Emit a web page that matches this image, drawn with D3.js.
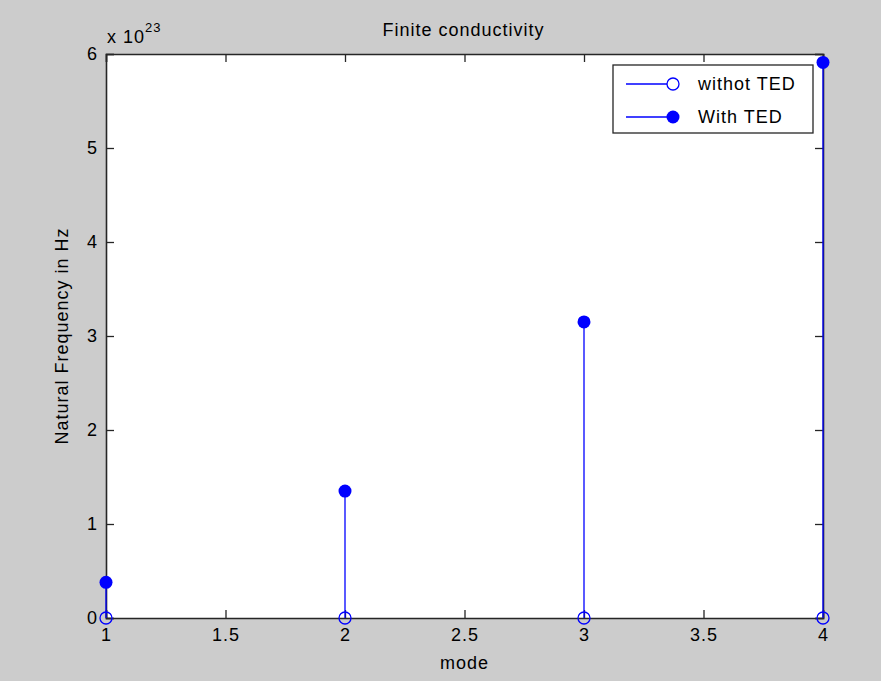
<!DOCTYPE html>
<html><head><meta charset="utf-8">
<script src="https://cdn.jsdelivr.net/npm/d3@7"></script>
<style>
html,body{margin:0;padding:0;background:#cccccc;}
svg text{font-family:"Liberation Sans",Arial,sans-serif;fill:#000;}
</style></head>
<body>
<svg id="chart" width="881" height="681"></svg>
<script>
const title = "Finite conductivity";
const xLabel = "mode";
const yLabel = "Natural Frequency in Hz";
const modes = [1, 2, 3, 4];
const withoutTED = [0, 0, 0, 0];
const withTED = [0.38e23, 1.35e23, 3.15e23, 5.91e23];
const seriesNames = ["withot TED", "With TED"];
const xTicks = [1, 1.5, 2, 2.5, 3, 3.5, 4];
const yTicks = [0, 1e23, 2e23, 3e23, 4e23, 5e23, 6e23];
const yExponent = 23;

const svg = d3.select("#chart");
const W = 881, H = 681;
svg.append("rect").attr("width", W).attr("height", H).attr("fill", "#cccccc");

const L = 106, R = 823, T = 54, B = 618;
const x = d3.scaleLinear().domain([1, 4]).range([L, R]);
const y = d3.scaleLinear().domain([0, 6e23]).range([B, T]);

svg.append("rect").attr("x", L).attr("y", T).attr("width", R - L).attr("height", B - T).attr("fill", "#fff");

const axisColor = "#262626";
const fs = 18, ls = "1px";
const tickLen = 8;

const gx = svg.append("g").attr("transform", `translate(0,${B})`)
  .call(d3.axisBottom(x).tickValues(xTicks).tickSize(-tickLen).tickFormat(d3.format("")));
const gxt = svg.append("g").attr("transform", `translate(0,${T})`)
  .call(d3.axisTop(x).tickValues(xTicks).tickSize(-tickLen).tickFormat(""));
const gy = svg.append("g").attr("transform", `translate(${L},0)`)
  .call(d3.axisLeft(y).tickValues(yTicks).tickSize(-tickLen).tickFormat(d => d3.format("")(d / Math.pow(10, yExponent))));
const gyr = svg.append("g").attr("transform", `translate(${R},0)`)
  .call(d3.axisRight(y).tickValues(yTicks).tickSize(-tickLen).tickFormat(""));

[gx, gxt, gy, gyr].forEach(g => {
  g.select(".domain").attr("stroke", axisColor).attr("stroke-width", 1.6);
  g.selectAll(".tick line").attr("stroke", axisColor).attr("stroke-width", 1.3);
  g.selectAll(".tick text").attr("font-size", fs).attr("font-family", "Liberation Sans, Arial, sans-serif")
    .attr("fill", "#111").style("letter-spacing", ls);
});
gx.selectAll(".tick text").attr("dy", "0.71em").attr("y", 10);
gy.selectAll(".tick text").attr("x", -8);

const ex = svg.append("text").attr("x", 107).attr("y", 43).attr("font-size", fs).attr("fill", "#111").style("letter-spacing", ls);
ex.append("tspan").text("x 10");
ex.append("tspan").attr("font-size", 13).attr("dy", -11).text(String(yExponent));

svg.append("text").attr("x", (L + R) / 2 - 1).attr("y", 36).attr("text-anchor", "middle").attr("fill", "#111")
  .attr("font-size", fs).style("letter-spacing", ls).text(title);
svg.append("text").attr("x", (L + R) / 2).attr("y", 669).attr("text-anchor", "middle").attr("fill", "#111")
  .attr("font-size", fs).style("letter-spacing", ls).text(xLabel);
svg.append("text").attr("transform", `translate(68,${(T + B) / 2}) rotate(-90)`).attr("text-anchor", "middle").attr("fill", "#111")
  .attr("font-size", fs).style("letter-spacing", ls).text(yLabel);

const blue = "#0000ff";
const s1 = modes.map((m, i) => ({m, v: withoutTED[i]}));
const s2 = modes.map((m, i) => ({m, v: withTED[i]}));

svg.append("g").selectAll("line").data(s1).join("line")
  .attr("x1", d => x(d.m)).attr("x2", d => x(d.m)).attr("y1", y(0)).attr("y2", d => y(d.v))
  .attr("stroke", blue).attr("stroke-width", 1.3);
svg.append("g").selectAll("line").data(s2).join("line")
  .attr("x1", d => x(d.m)).attr("x2", d => x(d.m)).attr("y1", y(0)).attr("y2", d => y(d.v))
  .attr("stroke", blue).attr("stroke-width", 1.3);
svg.append("g").selectAll("circle").data(s1).join("circle")
  .attr("cx", d => x(d.m)).attr("cy", d => y(d.v)).attr("r", 6)
  .attr("fill", "none").attr("stroke", blue).attr("stroke-width", 1.3);
svg.append("g").selectAll("circle").data(s2).join("circle")
  .attr("cx", d => x(d.m)).attr("cy", d => y(d.v)).attr("r", 6.5)
  .attr("fill", blue);

const lg = svg.append("g");
lg.append("rect").attr("x", 613).attr("y", 65).attr("width", 200).attr("height", 68)
  .attr("fill", "#fff").attr("stroke", axisColor).attr("stroke-width", 1.3);
const rows = [84, 117];
seriesNames.forEach((name, i) => {
  const yy = rows[i];
  lg.append("line").attr("x1", 626).attr("x2", 673).attr("y1", yy).attr("y2", yy)
    .attr("stroke", blue).attr("stroke-width", 1.3);
  if (i === 0) {
    lg.append("circle").attr("cx", 673).attr("cy", yy).attr("r", 6).attr("fill", "#fff")
      .attr("stroke", blue).attr("stroke-width", 1.3);
  } else {
    lg.append("circle").attr("cx", 673).attr("cy", yy).attr("r", 6.5).attr("fill", blue);
  }
  lg.append("text").attr("x", 698).attr("y", yy + 6).attr("font-size", fs).attr("fill", "#111")
    .style("letter-spacing", ls).text(name);
});
</script>
</body></html>
